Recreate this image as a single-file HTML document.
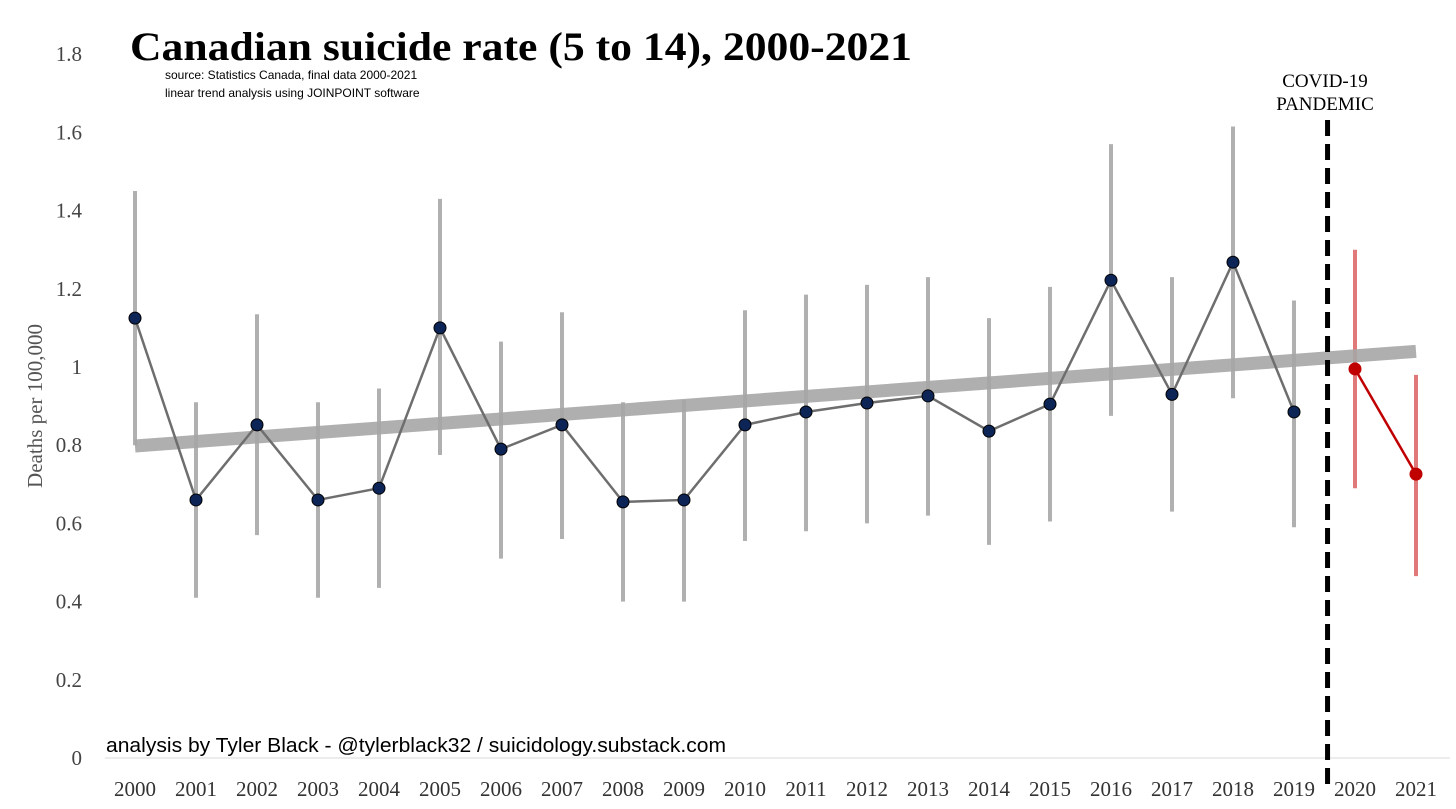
<!DOCTYPE html>
<html><head><meta charset="utf-8"><style>
body{margin:0;background:#fff;}
svg{display:block;font-family:"Liberation Serif",serif;}
</style></head><body>
<svg id="c" width="1456" height="809">
<text x="130" y="60" font-size="40" font-weight="bold" textLength="782" lengthAdjust="spacingAndGlyphs">Canadian suicide rate (5 to 14), 2000-2021</text>
<text x="165" y="79" font-size="12" font-family="Liberation Sans,sans-serif">source: Statistics Canada, final data 2000-2021</text>
<text x="165" y="97" font-size="12" font-family="Liberation Sans,sans-serif">linear trend analysis using JOINPOINT software</text>
<text transform="translate(42,406) rotate(-90)" text-anchor="middle" font-size="21" fill="#555">Deaths per 100,000</text>
<text x="106" y="752" font-size="20" font-family="Liberation Sans,sans-serif" textLength="620" lengthAdjust="spacingAndGlyphs">analysis by Tyler Black - @tylerblack32 / suicidology.substack.com</text>
<text x="1325" y="87" text-anchor="middle" font-size="19">COVID-19</text>
<text x="1325" y="110" text-anchor="middle" font-size="19">PANDEMIC</text>
<g id="g"></g>
</svg>
<script>
const years=[2000,2001,2002,2003,2004,2005,2006,2007,2008,2009,2010,2011,2012,2013,2014,2015,2016,2017,2018,2019,2020,2021];
const rates=[1.125,0.66,0.852,0.66,0.69,1.10,0.79,0.852,0.655,0.66,0.852,0.885,0.908,0.926,0.836,0.905,1.222,0.93,1.268,0.885,0.995,0.726];
const upper=[1.45,0.91,1.135,0.91,0.945,1.43,1.065,1.14,0.91,0.915,1.145,1.185,1.21,1.23,1.125,1.205,1.57,1.23,1.615,1.17,1.30,0.98];
const lower=[0.80,0.41,0.57,0.41,0.435,0.775,0.51,0.56,0.40,0.40,0.555,0.58,0.60,0.62,0.545,0.605,0.875,0.63,0.92,0.59,0.69,0.465];
const yTicks=[0,0.2,0.4,0.6,0.8,1,1.2,1.4,1.6,1.8];
const trendStart=0.798, trendEnd=1.04;
const pandemicYear=2019.55;
const X=y=>135+(y-2000)*61;
const Y=v=>758-v*391;
const NS="http://www.w3.org/2000/svg";
const g=document.getElementById('g');
function mk(t,a){const e=document.createElementNS(NS,t);for(const k in a)e.setAttribute(k,a[k]);g.appendChild(e);return e;}
let e=mk('line',{x1:105,x2:1450,y1:Y(0),y2:Y(0),stroke:'#d9d9d9','stroke-width':1});


yTicks.forEach(t=>{const e=mk('text',{x:82,y:Y(t)+7,'text-anchor':'end','font-size':21,fill:'#444'});e.textContent=String(t);

});
years.forEach(yr=>{const e=mk('text',{x:X(yr),y:796,'text-anchor':'middle','font-size':21,fill:'#333'});e.textContent=yr;

});
years.forEach((yr,i)=>{const red=yr>=2020;const e=mk('line',{x1:X(yr),x2:X(yr),y1:Y(upper[i]),y2:Y(lower[i]),stroke:red?'#e07a7a':'#b0b0b0','stroke-width':4});

});
e=mk('line',{x1:X(2000),x2:X(2021),y1:Y(trendStart),y2:Y(trendEnd),stroke:'#a6a6a6','stroke-width':13,'stroke-opacity':0.9});


let pre='',post='';
years.forEach((yr,i)=>{if(yr<2020)pre+=(pre?'L':'M')+X(yr)+','+Y(rates[i]);else post+=(post?'L':'M')+X(yr)+','+Y(rates[i]);});
e=mk('path',{d:pre,fill:'none',stroke:'#6e6e6e','stroke-width':2.5});


e=mk('path',{d:post,fill:'none',stroke:'#c00000','stroke-width':2.5});


e=mk('line',{x1:X(pandemicYear),x2:X(pandemicYear),y1:120,y2:786,stroke:'#000','stroke-width':5,'stroke-dasharray':'16,8'});


years.forEach((yr,i)=>{const red=yr>=2020;const e=mk('circle',{cx:X(yr),cy:Y(rates[i]),r:6,fill:red?'#c00000':'#0d2456',stroke:red?'#c00000':'#000','stroke-width':1});

});
</script>
</body></html>
